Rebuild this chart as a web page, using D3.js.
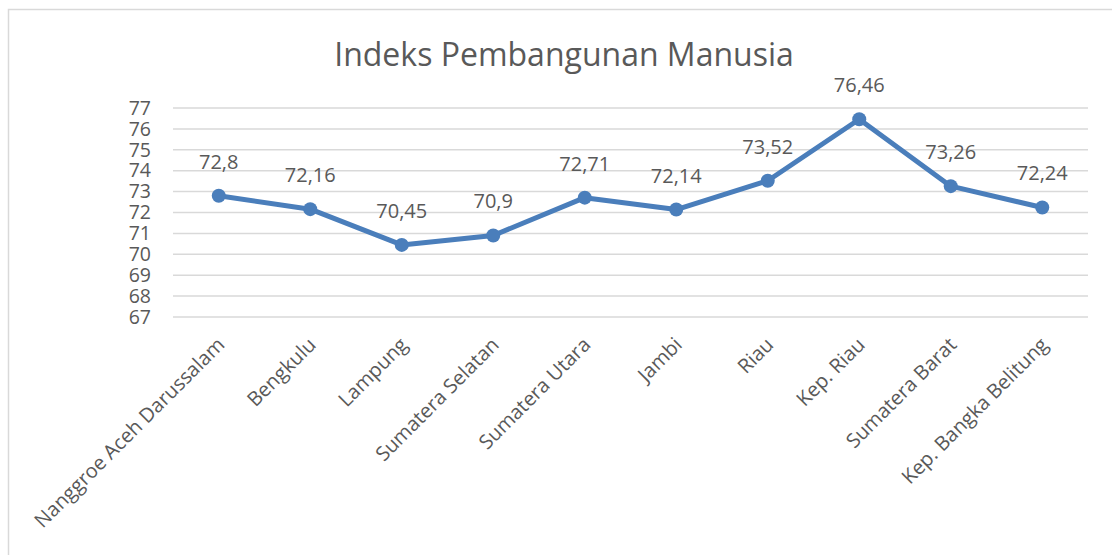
<!DOCTYPE html>
<html>
<head>
<meta charset="utf-8">
<script src="https://cdn.jsdelivr.net/npm/d3@7"></script>
<style>
    body { margin: 0; background: #fff; }
    text { font-family: "Open Sans", sans-serif; fill: #595959; }
</style>
</head>
<body>
<svg id="chart"></svg>
<script>
// chart data
const provinces = ["Nanggroe Aceh Darussalam", "Bengkulu", "Lampung", "Sumatera Selatan",
    "Sumatera Utara", "Jambi", "Riau", "Kep. Riau", "Sumatera Barat", "Kep. Bangka Belitung"];
const ipm = [72.8, 72.16, 70.45, 70.9, 72.71, 72.14, 73.52, 76.46, 73.26, 72.24];
const yTicks = [67, 68, 69, 70, 71, 72, 73, 74, 75, 76, 77];

// canvas
const canvWidth = 1112;
const canvHeight = 555;
const margin = { top: 108, right: 24, bottom: 238, left: 173 };
const width = canvWidth - margin.left - margin.right;
const height = canvHeight - margin.top - margin.bottom;

let svg = d3.select("#chart")
    .attr("width", canvWidth)
    .attr("height", canvHeight);

// outer frame
svg.append("rect")
    .attr("x", 8.5).attr("y", 9.5)
    .attr("width", 1120).attr("height", 560)
    .attr("fill", "none")
    .attr("stroke", "#d9d9d9")
    .attr("stroke-width", 1.5);

// title
svg.append("text")
    .attr("x", 564).attr("y", 66)
    .attr("text-anchor", "middle")
    .style("font-size", "32px")
    .text("Indeks Pembangunan Manusia");

let g = svg.append("g")
    .attr("transform", "translate(" + margin.left + "," + margin.top + ")");

// scales
const x = d3.scaleBand()
    .domain(provinces)
    .range([0, width]);

const y = d3.scaleLinear()
    .domain([67, 77])
    .range([height, 0]);

// gridlines
g.selectAll(".grid")
    .data(yTicks)
    .enter().append("line")
    .attr("x1", 0).attr("x2", width)
    .attr("y1", d => y(d)).attr("y2", d => y(d))
    .attr("stroke", "#d9d9d9")
    .attr("stroke-width", 1.5);

// y axis
let yAxis = g.append("g")
    .call(d3.axisLeft(y).tickValues(yTicks).tickSize(0).tickPadding(22));
yAxis.select(".domain").remove();
yAxis.selectAll("text")
    .style("font-size", "19.5px")
    .attr("fill", "#595959");

// x axis labels
let xAxis = g.append("g")
    .attr("transform", "translate(0," + height + ")")
    .call(d3.axisBottom(x).tickSize(0).tickPadding(0));
xAxis.select(".domain").remove();
xAxis.selectAll("text")
    .style("font-size", "20px")
    .attr("fill", "#595959")
    .attr("text-anchor", "end")
    .attr("dy", null)
    .attr("transform", "translate(7,29) rotate(-45)");

// line
const line = d3.line()
    .x((d, i) => x(provinces[i]) + x.bandwidth() / 2)
    .y(d => y(d));

g.append("path")
    .datum(ipm)
    .attr("fill", "none")
    .attr("stroke", "#4a7ebb")
    .attr("stroke-width", 5)
    .attr("stroke-linejoin", "round")
    .attr("d", line);

// markers
g.selectAll(".dot")
    .data(ipm)
    .enter().append("circle")
    .attr("cx", (d, i) => x(provinces[i]) + x.bandwidth() / 2)
    .attr("cy", d => y(d))
    .attr("r", 7)
    .attr("fill", "#4a7ebb");

// data labels
g.selectAll(".lbl")
    .data(ipm)
    .enter().append("text")
    .attr("x", (d, i) => x(provinces[i]) + x.bandwidth() / 2)
    .attr("y", d => y(d) - 27)
    .attr("text-anchor", "middle")
    .style("font-size", "20px")
    .attr("fill", "#404040")
    .text(d => String(d).replace(".", ","));
</script>
</body>
</html>
